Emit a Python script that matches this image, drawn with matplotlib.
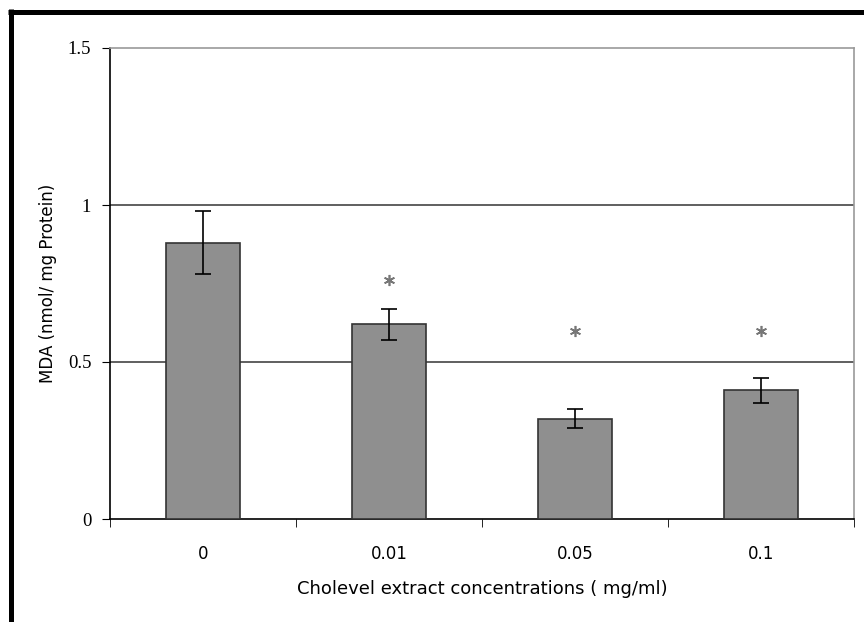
import matplotlib
matplotlib.use("Agg")
import matplotlib.pyplot as plt
from matplotlib.lines import Line2D
import numpy as np

categories = ["0", "0.01", "0.05", "0.1"]
mda = [0.88, 0.62, 0.32, 0.41]
err = [0.10, 0.05, 0.03, 0.04]
star_y = [None, 0.76, 0.60, 0.60]

fig = plt.figure(figsize=(8.64, 6.22), dpi=100)
ax = fig.add_axes([110/864, 103/622, 744/864, 471/622])

x = np.arange(len(categories))
ax.bar(x, mda, width=0.4, color="#8f8f8f", edgecolor="#333333", linewidth=1.2, zorder=3)
ax.errorbar(x, mda, yerr=err, fmt="none", ecolor="black", elinewidth=1.2,
            capsize=6, capthick=1.2, zorder=4)
# significance marks
sx = [xi for xi, sy in zip(x, star_y) if sy is not None]
sy = [v for v in star_y if v is not None]
ax.plot(sx, sy, linestyle="none", marker=(6, 2, 0), markersize=8,
        markeredgewidth=1.2, color="#777777", zorder=4)

ax.set_xlim(-0.5, 3.5)
ax.set_ylim(0, 1.5)
ax.set_yticks([0, 0.5, 1, 1.5])
ax.set_yticklabels(["0", "0.5", "1", "1.5"], family="Liberation Serif", fontsize=13.5)
ax.set_xticks(x)
ax.set_xticklabels(categories, family="DejaVu Sans", fontsize=12)
ax.tick_params(axis="x", length=0, pad=19)
ax.set_xticks([-0.5, 0.5, 1.5, 2.5, 3.5], minor=True)
ax.tick_params(axis="x", which="minor", length=6, direction="out", color="black")
ax.tick_params(axis="y", length=6, direction="out", pad=7.5)

for yv in [0.5, 1.0]:
    ax.axhline(yv, color="#444444", linewidth=1.2, zorder=1)

ax.spines["top"].set_color("#999999")
ax.spines["right"].set_color("#999999")
ax.spines["left"].set_color("black")
ax.spines["bottom"].set_color("black")
for s in ax.spines.values():
    s.set_linewidth(1.2)

ax.set_ylabel("MDA (nmol/ mg Protein)", family="DejaVu Sans", fontsize=12, labelpad=8)
ax.set_xlabel("Cholevel extract concentrations ( mg/ml)", family="DejaVu Sans",
              fontsize=13, labelpad=12)

# thick page frame on top and left
fig.add_artist(Line2D([8/864, 1], [1 - 11.5/622, 1 - 11.5/622], color="black",
                      linewidth=3.6, solid_capstyle="butt"))
fig.add_artist(Line2D([10.5/864, 10.5/864], [0, 1 - 9/622], color="black",
                      linewidth=3.6, solid_capstyle="butt"))

fig.savefig("out.png", dpi=100)
